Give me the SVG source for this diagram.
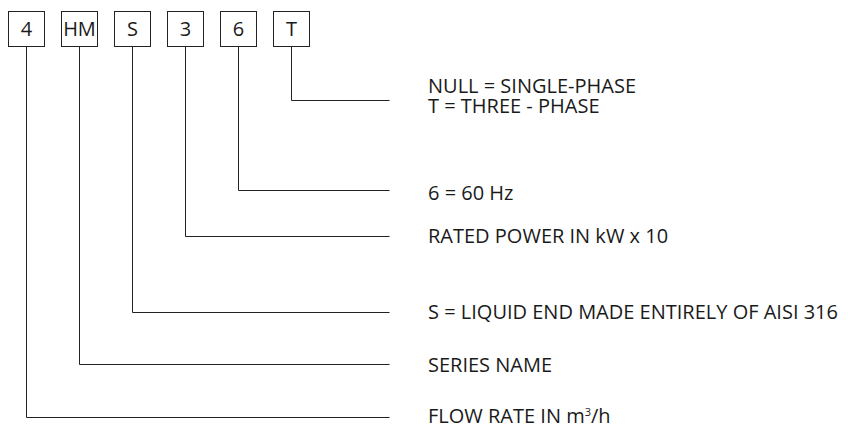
<svg xmlns="http://www.w3.org/2000/svg" width="848" height="428" viewBox="0 0 848 428">
<style>
.box{fill:#fff;stroke:#222;stroke-width:1}
.ln{fill:none;stroke:#222;stroke-width:1}
.t{font-family:"Open Sans","Noto Sans","Liberation Sans",sans-serif;font-size:20px;fill:#1a1a1a}
.c{text-anchor:middle}
.sup{font-size:11px}
</style>
<rect width="848" height="428" fill="#fff"/>
<g id="connectors">
<polyline class="ln" points="291.5,46.5 291.5,100.5 389.5,100.5"/>
<polyline class="ln" points="238.5,46.5 238.5,190.5 389.5,190.5"/>
<polyline class="ln" points="185.5,46.5 185.5,236.5 389.5,236.5"/>
<polyline class="ln" points="132.5,46.5 132.5,312.5 389.5,312.5"/>
<polyline class="ln" points="79.5,46.5 79.5,364.5 389.5,364.5"/>
<polyline class="ln" points="26.5,46.5 26.5,417.5 389.5,417.5"/>
</g>
<g id="box-4"><rect class="box" x="8.5" y="11.5" width="36" height="35"/><text class="t c" x="26.5" y="36">4</text></g>
<g id="box-HM"><rect class="box" x="61.5" y="11.5" width="36" height="35"/><text class="t c" x="79.5" y="36">HM</text></g>
<g id="box-S"><rect class="box" x="114.5" y="11.5" width="36" height="35"/><text class="t c" x="132.5" y="36">S</text></g>
<g id="box-3"><rect class="box" x="167.5" y="11.5" width="36" height="35"/><text class="t c" x="185.5" y="36">3</text></g>
<g id="box-6"><rect class="box" x="220.5" y="11.5" width="36" height="35"/><text class="t c" x="238.5" y="36">6</text></g>
<g id="box-T"><rect class="box" x="273.5" y="11.5" width="36" height="35"/><text class="t c" x="291.5" y="36">T</text></g>
<g id="labels">
<text class="t" x="428" y="92.5">NULL = SINGLE-PHASE<tspan x="428" dy="20.5">T = THREE - PHASE</tspan></text>
<text class="t" x="428" y="200">6 = 60 Hz</text>
<text class="t" x="428" y="243">RATED POWER IN kW x 10</text>
<text class="t" x="428" y="318.5">S = LIQUID END MADE ENTIRELY OF AISI 316</text>
<text class="t" x="428" y="371.5">SERIES NAME</text>
<text class="t" x="428" y="423">FLOW RATE IN m<tspan class="sup" dy="-7">3</tspan><tspan dy="7">/h</tspan></text>
</g>
</svg>
